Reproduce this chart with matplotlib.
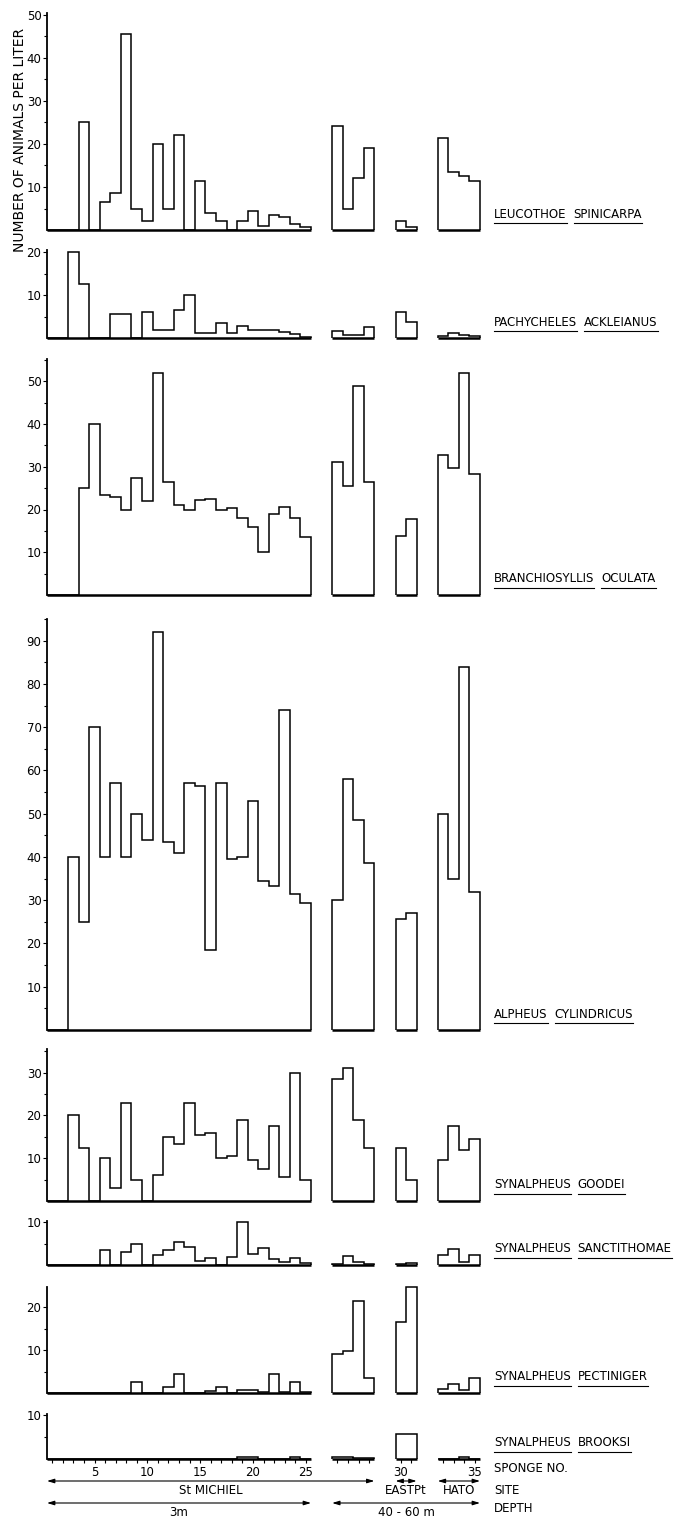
import numpy as np
import matplotlib
matplotlib.use('Agg')
import matplotlib.pyplot as plt
from matplotlib.lines import Line2D
from matplotlib.ticker import FixedLocator

W, H = 687, 1519

# sponge numbers and the four sampling groups (St Michiel 3m, St Michiel deep, East Pt, Hato)
sponge_no = np.arange(1, 36)
segments = [(1, 25), (26, 29), (30, 31), (32, 35)]

genus = ['LEUCOTHOE', 'PACHYCHELES', 'BRANCHIOSYLLIS', 'ALPHEUS',
         'SYNALPHEUS', 'SYNALPHEUS', 'SYNALPHEUS', 'SYNALPHEUS']
species = ['SPINICARPA', 'ACKLEIANUS', 'OCULATA', 'CYLINDRICUS',
           'GOODEI', 'SANCTITHOMAE', 'PECTINIGER', 'BROOKSI']

# animals per liter, sponge 1..35
leucothoe = [0, 0, 0, 25, 0, 6.5, 8.5, 45.5, 5, 2, 20, 5, 22, 0, 11.5, 4, 2, 0, 2, 4.5,
             1, 3.5, 3, 1.5, 0.8,
             24.3, 4.8, 12, 19,
             2, 0.8,
             21.5, 13.5, 12.5, 11.5]
pachycheles = [0, 0, 20, 12.5, 0, 0, 5.5, 5.5, 0, 6, 1.9, 1.9, 6.5, 10, 1.1, 1.1, 3.6, 1.1, 2.9, 1.9,
               1.9, 1.9, 1.4, 0.9, 0.3,
               1.6, 0.6, 0.6, 2.6,
               6.0, 3.8,
               0.4, 1.1, 0.8, 0.4]
branchiosyllis = [0, 0, 0, 25, 40, 23.3, 23, 20, 27.3, 22, 52, 26.5, 21, 20, 22.3, 22.5, 20, 20.3, 18, 16,
                  10, 19, 20.5, 18, 13.5,
                  31, 25.5, 49, 26.5,
                  13.7, 17.8,
                  32.7, 29.6, 52, 28.2]
alpheus = [0, 0, 40, 25, 70, 40, 57, 40, 50, 44, 92, 43.5, 41, 57, 56.5, 18.5, 57, 39.5, 40, 53,
           34.5, 33.3, 74, 31.5, 29.3,
           30, 58, 48.5, 38.5,
           25.7, 27,
           50, 35, 84, 32]
goodei = [0, 0, 20, 12.5, 0, 10, 3, 23, 5, 0, 6, 15, 13.3, 23, 15.5, 16, 10, 10.5, 19, 9.5,
          7.5, 17.5, 5.5, 30, 4.8,
          28.5, 31, 19, 12.5,
          12.5, 5,
          9.5, 17.5, 12, 14.5]
sanctithomae = [0, 0, 0, 0, 0, 3.5, 0, 3, 5, 0, 2.3, 3.5, 5.5, 4.3, 1, 1.6, 0, 1.8, 10, 2.5,
                4, 1.3, 0.8, 1.7, 0.4,
                0.3, 2.0, 0.8, 0.3,
                0.2, 0.4,
                2.3, 3.8, 0.8, 2.3]
pectiniger = [0, 0, 0, 0, 0, 0, 0, 0, 2.5, 0, 0, 1.4, 4.5, 0, 0, 0.4, 1.3, 0, 0.8, 0.8,
              0.3, 4.5, 0.3, 2.5, 0.3,
              9.2, 9.7, 21.4, 3.5,
              16.5, 24.7,
              0.9, 2.2, 0.8, 3.5]
brooksi = [0, 0, 0, 0, 0, 0, 0, 0, 0, 0, 0, 0, 0, 0, 0, 0, 0, 0, 0.4, 0.4,
           0, 0, 0, 0.4, 0,
           0.4, 0.4, 0.2, 0.3,
           5.7, 5.7,
           0.1, 0.1, 0.4, 0.1]

data = [leucothoe, pachycheles, branchiosyllis, alpheus,
        goodei, sanctithomae, pectiniger, brooksi]

# panel layout in pixels: baseline row, pixels per unit, top of y axis
base_px = [230, 338, 595, 1030, 1201, 1265, 1393, 1459]
unit_px = [4.3, 4.29, 4.275, 4.326, 4.28, 4.27, 4.28, 4.4]
y_top = [50.5, 20.5, 55.3, 95, 35.4, 10.2, 24.8, 10.3]
gap = 2
x_left, x_right = 47, 480
u_max = 41

plt.rcParams['font.family'] = ['DejaVu Sans']
plt.rcParams['font.size'] = 8.5

fig = plt.figure(figsize=(W / 100, H / 100), dpi=100)


def sponge_left(i):
    # left edge of a sponge bin, with a gap between sampling groups
    for k, (a, b) in enumerate(segments):
        if a <= i <= b:
            return (i - 1) + gap * k


def fy(px):
    return 1 - px / H


axes = []
for p, vals in enumerate(data):
    vals = np.array(vals, dtype=float)
    top_px = base_px[p] - y_top[p] * unit_px[p]
    ax = fig.add_axes([x_left / W, fy(base_px[p]),
                       (x_right - x_left) / W, (base_px[p] - top_px) / H])
    ax.set_xlim(0, u_max)
    ax.set_ylim(0, y_top[p])
    for s in ['top', 'right', 'bottom']:
        ax.spines[s].set_visible(False)
    ax.spines['left'].set_linewidth(1.3)

    for a, b in segments:
        idx = (sponge_no >= a) & (sponge_no <= b)
        lefts = [sponge_left(i) for i in sponge_no[idx]]
        edges = np.append(lefts, lefts[-1] + 1)
        ax.stairs(vals[idx], edges, baseline=0, color='k', lw=1.1, clip_on=False)
        ax.plot([edges[0], edges[-1]], [0, 0], color='k', lw=1.8,
                solid_capstyle='butt', clip_on=False)

    ax.yaxis.set_major_locator(FixedLocator(np.arange(10, y_top[p] + 0.1, 10)))
    ax.yaxis.set_minor_locator(FixedLocator(np.arange(5, y_top[p] + 0.1, 10)))
    ax.tick_params(axis='y', which='major', length=3, width=0.8, pad=1, labelsize=8.5)
    ax.tick_params(axis='y', which='minor', length=2, width=0.8)
    ax.set_xticks([])
    axes.append(ax)

# sponge number axis on the last panel
ax8 = axes[-1]
centres = [sponge_left(i) + 0.5 for i in sponge_no]
ax8.set_xticks(centres, minor=True)
lab_no = [5, 10, 15, 20, 25, 30, 35]
ax8.set_xticks([sponge_left(i) + 0.5 for i in lab_no])
ax8.set_xticklabels([str(i) for i in lab_no])
ax8.tick_params(axis='x', which='both', length=3, width=0.8, direction='out', pad=2,
                labelsize=8.5)

# species names with each word underlined
fig.canvas.draw()
r = fig.canvas.get_renderer()
lab_x = 494
for p in range(len(data)):
    y = fy(base_px[p] - 16)
    x0 = lab_x
    for word in [genus[p], species[p]]:
        t = fig.text(x0 / W, y, word, fontsize=8.5, va='center', ha='left')
        bb = t.get_window_extent(renderer=r)
        ul = (bb.y0 - 2) / H
        fig.add_artist(Line2D([bb.x0 / W, bb.x1 / W], [ul, ul], color='k', lw=0.8,
                              transform=fig.transFigure))
        x0 = bb.x1 + 7

fig.text(20 / W, fy(140), 'NUMBER OF ANIMALS PER LITER', rotation=90,
         ha='center', va='center', fontsize=10)

# site and depth arrows
arrow = dict(arrowstyle='<|-|>,head_length=0.5,head_width=0.15', color='k', lw=0.8,
             shrinkA=0, shrinkB=0)
sites = [('St MICHIEL', 0, 31), ('EASTPt', 33, 35), ('HATO', 37, 41)]
depths = [('3m', 0, 25), ('40 - 60 m', 27, 41)]
for rows, y_arr, y_txt in [(sites, 1481, 1490), (depths, 1503, 1512)]:
    for name, u0, u1 in rows:
        ax8.annotate('', xy=(u1, fy(y_arr)), xytext=(u0, fy(y_arr)),
                     xycoords=('data', 'figure fraction'),
                     textcoords=('data', 'figure fraction'),
                     arrowprops=arrow, annotation_clip=False)
        ax8.annotate(name, xy=((u0 + u1) / 2, fy(y_txt)),
                     xycoords=('data', 'figure fraction'),
                     ha='center', va='center', fontsize=8.5, annotation_clip=False)

fig.text(lab_x / W, fy(1469), 'SPONGE NO.', va='center', fontsize=8.5)
fig.text(lab_x / W, fy(1490), 'SITE', va='center', fontsize=8.5)
fig.text(lab_x / W, fy(1508), 'DEPTH', va='center', fontsize=8.5)

fig.savefig('out.png', dpi=100)
